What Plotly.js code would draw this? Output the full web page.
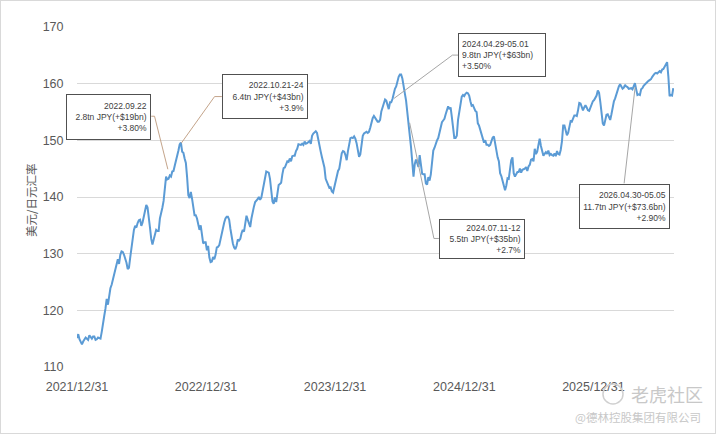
<!DOCTYPE html>
<html><head><meta charset="utf-8">
<script src="https://cdn.plot.ly/plotly-3.0.1.min.js"></script>
<style>
html,body{margin:0;padding:0;background:#fff}
#chart{width:716px;height:434px}
#frame{position:absolute;left:0;top:0;width:716px;height:434px;box-sizing:border-box;border:1px solid #d9d9d9;pointer-events:none}
</style>
</head><body>
<div id="chart"></div><div id="frame"></div>
<script>
// ---- data (USD/JPY readings every 3.5 days, starting 2021-12-31) ----
const startDate = '2021-12-31';
const stepDays = 3.5;
const usdJpy = [
115.1,115.8,114.9,114.3,114.0,114.5,114.8,115.2,115.0,114.8,115.6,115.3,115.0,115.4,115.4,114.8,114.9,115.2,115.1,115.0,
116.2,117.3,119.0,120.3,122.0,121.0,122.5,123.9,124.5,125.4,126.2,127.2,128.0,129.0,128.2,129.8,130.4,130.3,129.8,129.2,
128.4,127.3,127.5,129.3,131.2,133.0,134.2,134.9,134.6,135.4,135.9,136.0,134.9,135.5,136.4,137.7,138.6,138.2,136.8,134.6,
132.6,131.6,132.5,133.6,134.2,134.0,134.0,136.2,137.0,138.1,139.3,141.7,143.6,143.1,143.2,143.8,143.6,144.5,144.6,145.5,
146.3,147.0,148.2,149.3,149.6,148.0,147.8,146.8,146.0,143.5,140.3,139.8,140.9,139.7,138.4,136.8,136.8,136.2,135.2,134.2,
135.0,133.4,131.8,132.0,132.0,130.6,131.4,129.3,128.5,128.6,129.4,129.0,129.8,131.1,131.2,131.5,132.6,133.5,134.3,135.5,
136.2,136.5,136.5,136.0,134.4,133.0,131.8,131.1,130.8,131.4,132.5,132.3,132.6,133.6,134.2,133.9,135.0,136.7,136.0,135.1,
134.7,136.2,137.5,138.3,139.1,139.3,139.6,140.0,139.5,139.9,140.9,142.1,143.3,144.5,144.4,144.3,143.2,141.2,139.2,138.8,
139.9,139.1,141.0,142.1,142.3,142.5,144.0,145.1,145.2,145.8,146.3,146.2,146.8,146.3,147.2,147.3,147.3,148.1,148.5,149.3,
149.2,149.2,149.4,149.2,149.8,149.4,149.5,149.8,149.9,149.4,150.8,151.2,151.5,151.6,151.3,150.0,149.1,148.0,147.0,146.2,
145.2,143.2,142.6,141.9,141.6,141.7,141.0,140.8,141.7,142.8,143.9,144.6,145.0,146.7,147.7,148.1,148.0,147.4,146.5,148.1,
149.6,150.4,150.5,150.4,150.7,150.3,149.5,148.2,147.1,147.5,149.7,150.8,151.2,151.4,151.5,151.3,151.5,152.2,153.1,153.9,
154.3,154.0,153.6,153.3,153.3,153.6,155.1,155.9,156.7,157.2,157.0,156.3,155.5,156.7,156.7,157.3,158.3,159.1,159.5,160.5,
161.2,161.6,161.6,160.9,159.1,158.3,157.0,155.0,153.2,151.5,148.8,146.2,143.6,145.8,146.6,146.0,145.3,147.4,145.5,144.1,
144.0,144.0,142.4,142.2,143.5,142.9,144.0,146.2,148.2,148.7,149.5,150.0,150.4,151.2,152.4,153.2,153.5,153.8,154.6,155.5,
156.0,155.5,155.8,154.1,151.7,150.4,150.4,150.8,153.6,155.2,156.7,157.7,158.0,157.8,158.2,158.4,158.3,157.9,156.9,156.1,
156.2,155.6,155.2,155.0,153.0,152.6,151.8,151.3,150.5,149.6,150.0,149.2,149.2,149.0,149.2,150.1,150.5,150.7,149.5,147.9,
147.0,146.3,144.2,143.7,142.8,141.7,141.2,142.0,143.3,143.2,144.6,146.5,147.0,144.2,143.6,144.1,144.4,144.4,145.0,144.3,
144.8,144.9,145.0,145.3,144.6,145.4,145.7,146.6,146.7,146.3,148.5,147.6,148.0,149.2,150.3,149.0,147.9,147.3,147.6,147.9,
147.6,148.2,147.4,147.6,147.4,147.3,147.7,147.2,148.1,147.6,147.5,148.3,149.8,152.6,152.6,151.5,150.9,151.3,152.6,153.4,
153.3,153.8,154.4,154.4,154.3,155.3,156.6,156.5,155.8,155.3,155.8,156.2,155.8,155.3,155.2,155.8,156.4,156.9,157.1,157.4,
157.9,158.8,158.4,156.8,154.7,153.0,152.6,153.4,154.5,154.6,154.1,153.6,154.6,156.1,156.9,157.4,158.2,158.9,159.5,159.9,
159.5,159.1,159.3,159.8,159.5,159.4,159.1,159.1,159.2,159.0,159.8,160.1,159.0,158.0,158.1,158.0,159.0,159.2,159.6,159.9,
160.1,160.3,160.5,160.6,160.8,161.2,161.6,161.8,161.9,161.8,162.0,162.2,162.0,162.5,162.6,163.0,163.3,163.8,161.3,157.8,
158.0,157.9,159.2
];
const yearTicks = ['2021-12-31','2022-12-31','2023-12-31','2024-12-31','2025-12-31'];
const yTicks = [110,120,130,140,150,160,170];
const yTitle = '美元/日元汇率';

const calloutDates  = ['2022-09-14','2022-10-22','2024-06-15','2024-07-29','2026-04-28'];
const calloutValues = [144.9,149.5,157.4,153.1,159.4];
const calloutTexts  = [
  '2022.09.22<br>2.8tn JPY(+$19bn)<br>+3.80%',
  '2022.10.21-24<br>6.4tn JPY(+$43bn)<br>+3.9%',
  '2024.04.29-05.01<br>9.8tn JPY(+$63bn)<br>+3.50%',
  '2024.07.11-12<br>5.5tn JPY(+$35bn)<br>+2.7%',
  '2026.04.30-05.05<br>11.7tn JPY(+$73.6bn)<br>+2.90%'
];

// ---- styling / placement of callouts (pixels, y up) ----
const calloutStyle = [
  {shift:[-59.1,52.7], elbow:[-13.3,53],   end:[-16.6,53],   w:77, h:38, align:'right', lc:'#c4a48a'},
  {shift:[83.6,46.6],  elbow:[33.3,46.6],  end:[40.6,46.6],  w:78, h:37, align:'right', lc:'#c4a48a'},
  {shift:[108.2,43],   elbow:[58.4,43.3],  end:[64,43.3],    w:80, h:36, align:'left',  lc:'#a6a6a6'},
  {shift:[72.2,-116.3],elbow:[24.3,-115.7],end:[29.3,-115.7],w:78, h:32, align:'right', lc:'#a6a6a6'},
  {shift:[-10.3,-119.8],elbow:null,        end:[-11,-96.3],  w:83, h:37, align:'right', lc:'#a6a6a6'}
];
const boxFont = {family:"'Liberation Sans Narrow','Arial Narrow','Liberation Sans',sans-serif", size:8.5, color:'#404040'};
const tickFont = {family:"'Liberation Sans',Arial,sans-serif", size:12.5, color:'#595959'};

const annotations = [];
const shapes = [];
calloutTexts.forEach((t,i)=>{
  const s = calloutStyle[i];
  annotations.push({
    xref:'x', yref:'y', x:calloutDates[i], y:calloutValues[i],
    text:t, showarrow:false, xanchor:'center', yanchor:'middle',
    xshift:s.shift[0], yshift:s.shift[1], width:s.w, height:s.h,
    align:s.align, valign:'middle', font:boxFont,
    bgcolor:'#ffffff', bordercolor:'#505050', borderwidth:1, borderpad:3
  });
  const pts = s.elbow ? [[0,0], s.elbow, s.end] : [[0,0], s.end];
  for (let j=0;j<pts.length-1;j++){
    shapes.push({
      type:'line', xref:'x', yref:'y', xsizemode:'pixel', ysizemode:'pixel',
      xanchor:calloutDates[i], yanchor:calloutValues[i],
      x0:pts[j][0], y0:pts[j][1], x1:pts[j+1][0], y1:pts[j+1][1],
      line:{color:s.lc, width:1}, layer:'above'
    });
  }
});

// y-axis title
annotations.push({xref:'paper', yref:'paper', x:-0.0771, y:0.491, text:yTitle, textangle:-90,
  showarrow:false, xanchor:'center', yanchor:'middle',
  font:{family:"'Noto Sans CJK SC',sans-serif", size:11.5, color:'#595959'}});
// watermark
annotations.push({xref:'paper', yref:'paper', x:0.988, y:-0.078, text:'老虎社区', showarrow:false,
  xanchor:'center', yanchor:'middle', font:{family:"'Noto Sans CJK SC',sans-serif", size:18, color:'#c8c8c8'}});
annotations.push({xref:'paper', yref:'paper', x:0.939, y:-0.147, text:'@德林控股集团有限公司', showarrow:false,
  xanchor:'center', yanchor:'middle', font:{family:"'Noto Sans CJK SC',sans-serif", size:11.5, color:'#c8c8c8'}});
shapes.push({type:'circle', xref:'paper', yref:'paper', x0:0.881, x1:0.9146, y0:-0.1088, y1:-0.05,
  line:{color:'#d0d0d0', width:1.5}});

const trace = {
  type:'scatter', mode:'lines', x0:startDate, dx:stepDays*86400000, y:usdJpy,
  line:{color:'#5b9bd5', width:2}, hoverinfo:'skip'
};

const layout = {
  width:716, height:434,
  margin:{l:77, r:42, t:27, b:67},
  paper_bgcolor:'#ffffff', plot_bgcolor:'#ffffff',
  showlegend:false,
  xaxis:{type:'date', range:['2021-12-31','2026-08-16'], tickmode:'array', tickvals:yearTicks,
    tickformat:'%Y/%m/%d', showgrid:false, zeroline:false, showline:false,
    ticks:'outside', ticklen:8, tickcolor:'rgba(0,0,0,0)', tickfont:tickFont, fixedrange:true},
  yaxis:{range:[110,170], tickmode:'array', tickvals:yTicks, showgrid:true, gridcolor:'#d9d9d9', gridwidth:1,
    zeroline:false, showline:false, ticks:'outside', ticklen:10, tickcolor:'rgba(0,0,0,0)',
    tickfont:tickFont, fixedrange:true},
  annotations:annotations, shapes:shapes
};
Plotly.newPlot('chart',[trace],layout,{staticPlot:true, displayModeBar:false});
</script>
</body></html>
